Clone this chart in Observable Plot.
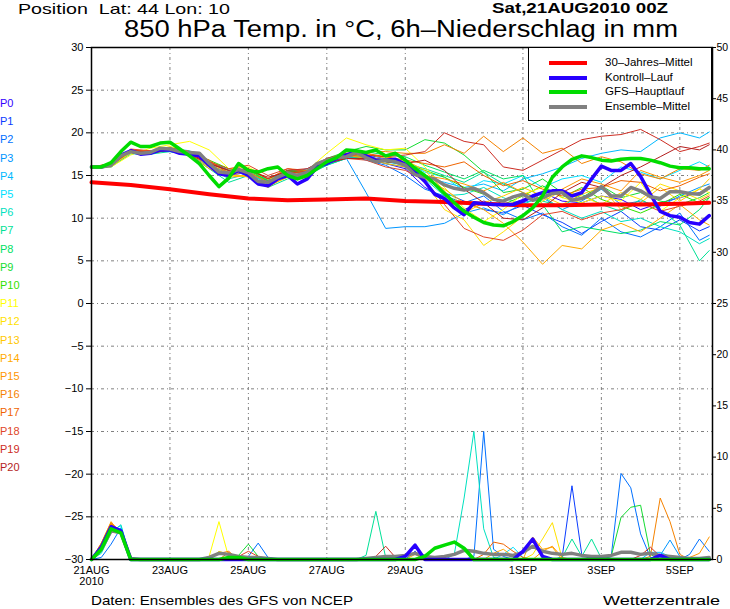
<!DOCTYPE html>
<html><head><meta charset="utf-8">
<script src="https://cdn.jsdelivr.net/npm/d3@7"></script>
<script src="https://cdn.jsdelivr.net/npm/@observablehq/plot@0.6"></script>
<style>
body{margin:0;background:#fff;}
#wrap{position:relative;width:730px;height:609px;overflow:hidden;font-family:"Liberation Sans",Arial,sans-serif;color:#000;}
.abs{position:absolute;white-space:nowrap;line-height:0.85;}
#wrap svg{position:absolute;left:0;top:0;}
</style></head><body><div id="wrap"></div>
<script>
// ---------- DATA ----------
const hours6 = [0,6,12,18,24,30,36,42,48,54,60,66,72,78,84,90,96,102,108,114,120,126,132,138,144,150,156,162,168,174,180,186,192,198,204,210,216,222,228,234,240,246,252,258,264,270,276,282,288,294,300,306,312,318,324,330,336,342,348,354,360,366,372,378];
const hours12 = [0,12,24,36,48,60,72,84,96,108,120,132,144,156,168,180,192,204,216,228,240,252,264,276,288,300,312,324,336,348,360,372,378];
const hoursClim = [0,24,48,72,96,120,144,168,192,216,240,264,288,312,336,360,378];

const xTickHours = [0,48,96,144,192,264,312,360];
const xTickLabels = ["21AUG\n2010","23AUG","25AUG","27AUG","29AUG","1SEP","3SEP","5SEP"];
const yTicks = [-30,-25,-20,-15,-10,-5,0,5,10,15,20,25,30];
const precipTicks = [0,5,10,15,20,25,30,35,40,45,50];

const memberNames = ["P0","P1","P2","P3","P4","P5","P6","P7","P8","P9","P10","P11","P12","P13","P14","P15","P16","P17","P18","P19","P20"];
const memberColors = ["#3300ff","#0a3cff","#0070ff","#0096ff","#00b9ff","#00e1ff","#00e1c0","#00e196","#00e164","#14dc32","#32e100","#ffff00","#ffe100","#ffc800","#ffaa00","#ff9600","#f58200","#f06400","#e04628","#cd2d23","#b41e1e"];

// 850 hPa temperature of the members (12-hourly)
const memberTemps = [
 [16.0,16.1,17.6,17.9,18.0,17.5,16.0,15.0,15.4,14.0,15.0,15.2,16.8,17.6,17.0,16.4, 15.8,13.6,12.4,11.0,12.0,11.4,12.2,13.0,12.0,11.8,12.6,12.2,11.0,11.8,12.4,13.0,13.4],
 [16.0,16.3,17.9,17.5,18.3,17.8,16.6,15.6,15.0,14.4,15.6,15.0,16.4,17.0,17.4,17.0, 16.6,15.0,13.0,12.0,11.0,10.6,11.5,10.4,9.5,8.2,9.6,10.8,9.0,8.6,9.8,8.5,9.0],
 [16.0,16.0,17.7,17.8,17.8,17.4,16.2,15.2,15.6,14.0,15.2,15.8,16.8,17.4,16.8,16.2, 15.0,13.4,12.6,11.8,12.6,10.8,9.8,10.6,9.0,8.0,10.0,8.4,7.8,9.0,10.6,7.4,8.0],
 [16.0,16.2,17.8,17.6,18.0,17.6,16.4,15.0,15.0,14.4,15.6,15.6,16.4,17.0,13.0,8.8, 9.0,9.0,9.4,10.6,11.2,10.4,11.8,12.4,11.0,12.0,13.4,11.6,12.0,11.4,12.6,13.6,14.0],
 [16.0,16.3,17.6,17.8,18.2,17.9,16.6,15.6,15.2,14.6,15.0,15.4,16.6,17.0,17.4,16.6, 16.2,14.8,14.2,13.6,14.0,13.2,14.6,15.2,16.0,17.0,17.6,18.0,17.8,19.4,20.0,19.4,20.1],
 [16.0,16.1,17.5,17.6,18.0,17.6,16.2,15.4,15.4,14.0,15.4,15.6,16.8,17.4,17.2,16.8, 16.6,15.4,14.8,13.2,14.4,14.0,15.0,13.6,14.6,15.0,14.2,16.0,15.4,14.6,15.6,16.6,16.0],
 [16.0,16.2,17.8,17.7,18.0,17.6,16.0,14.6,15.2,14.0,15.0,15.2,16.2,17.0,17.0,16.4, 16.0,14.6,12.6,12.8,13.6,12.4,11.6,12.6,11.0,10.0,10.8,9.6,10.0,9.0,8.4,7.0,7.6],
 [16.0,16.0,17.6,17.5,17.8,17.4,15.8,14.2,15.0,13.6,14.6,15.0,16.2,17.0,17.2,16.6, 16.4,15.8,15.0,14.2,15.4,14.0,13.0,12.0,11.4,12.8,11.6,10.8,12.2,11.0,9.2,5.0,6.2],
 [16.0,16.2,17.7,17.6,18.0,17.8,16.4,15.6,15.4,14.4,15.4,15.4,16.6,17.6,17.8,17.4, 17.2,16.2,15.4,14.6,15.6,14.6,15.0,11.6,8.4,9.0,8.6,8.2,8.6,9.6,9.2,11.0,12.4],
 [16.0,16.3,17.9,17.8,18.2,17.8,16.6,15.8,15.6,14.6,15.6,15.6,17.0,17.8,18.4,18.0, 18.0,19.2,18.8,17.4,15.4,13.0,13.4,14.6,13.0,12.4,13.8,12.4,13.0,12.0,11.6,12.4,13.0],
 [16.0,16.2,17.8,17.8,18.2,17.8,16.8,15.8,15.6,14.4,15.4,15.6,16.8,17.4,17.2,16.8, 16.4,15.6,14.8,13.6,12.8,11.6,12.6,13.8,12.4,13.6,12.2,11.4,10.6,11.6,12.8,11.8,12.4],
 [16.0,16.0,17.4,18.2,18.6,19.0,18.0,15.8,16.0,14.6,15.0,15.6,17.6,19.4,18.6,18.0, 18.2,16.0,13.6,11.2,9.6,11.0,12.8,13.6,12.4,11.8,12.6,12.0,14.2,10.8,12.4,13.4,13.0],
 [16.0,16.2,17.6,17.8,18.4,17.8,16.2,15.0,15.0,13.8,14.8,15.4,16.6,17.8,17.4,17.2, 16.6,14.2,11.0,9.8,6.8,8.4,10.2,12.0,13.2,12.6,11.6,13.0,12.2,14.0,13.2,12.2,12.8],
 [16.0,16.1,17.7,17.6,18.2,17.6,16.0,15.2,14.8,13.6,15.0,15.2,16.4,17.6,17.6,17.0, 16.8,15.6,13.2,10.6,11.8,12.6,13.6,12.6,11.6,12.8,13.6,11.0,11.8,13.6,12.0,13.4,14.6],
 [16.0,16.2,17.8,17.6,18.0,17.4,15.8,14.8,15.0,13.8,14.8,15.0,16.4,17.4,17.0,16.4, 16.0,14.6,13.4,11.8,11.0,9.4,7.2,4.6,6.8,6.4,8.6,9.4,8.4,10.0,11.6,9.8,9.2],
 [16.0,16.4,17.9,17.8,18.0,17.6,16.4,15.2,15.4,14.2,15.2,15.6,16.8,17.4,17.2,16.8, 16.4,15.0,14.6,14.0,13.2,14.2,13.0,12.2,13.4,14.6,14.0,13.2,15.6,14.8,14.2,15.0,15.6],
 [16.0,16.2,17.9,17.9,18.0,17.6,16.6,15.4,15.4,14.2,15.4,15.2,16.6,17.2,17.8,17.8, 17.6,17.6,18.6,17.6,19.6,17.8,19.4,17.6,18.2,16.4,17.2,16.6,15.2,14.6,15.8,15.6,16.2],
 [16.0,16.3,18.0,17.8,18.2,17.8,16.8,15.2,15.8,14.6,15.8,15.6,17.0,17.2,17.6,17.2, 16.8,16.4,16.0,16.6,15.0,13.8,14.4,13.4,12.6,13.4,13.6,14.4,14.2,13.2,13.8,14.8,15.2],
 [16.0,16.4,18.1,17.9,18.2,17.8,16.6,15.8,16.2,15.0,15.8,15.4,16.6,17.0,16.8,16.0, 15.6,14.4,11.6,8.8,7.8,7.4,8.6,10.4,10.8,9.8,10.6,11.0,11.8,10.8,11.4,12.0,12.6],
 [16.0,16.3,18.0,17.7,18.0,17.4,16.4,15.6,15.8,14.6,15.6,15.8,17.0,17.6,17.4,17.2, 17.4,17.8,20.0,19.0,18.6,16.0,15.6,16.8,18.0,19.2,19.6,19.8,20.4,19.2,17.8,18.4,18.8],
 [16.0,16.2,17.9,17.6,18.0,17.6,16.4,15.6,15.6,14.8,15.4,15.4,16.4,17.0,17.0,16.6, 16.4,16.8,15.6,13.4,11.8,10.0,9.8,11.2,13.0,14.2,13.6,15.0,16.0,17.2,18.4,18.0,18.6]
];

// thick lines (6-hourly; climate mean daily)
const climTemp = [14.2,13.9,13.4,12.8,12.3,12.1,12.2,12.3,12.0,11.9,11.7,11.5,11.5,11.6,11.6,11.7,11.8];
const gfsTemp = [16.0,16.0,16.5,17.8,18.9,18.4,18.4,18.8,18.9,18.1,
 17.3,16.4,15.0,13.7,14.7,16.4,15.6,15.4,15.8,16.0,
 15.0,14.6,15.0,15.8,16.6,17.1,18.0,17.9,17.7,18.0,
 17.3,17.6,16.8,15.8,15.0,14.0,12.9,11.8,10.8,10.1,
 9.5,9.2,9.1,9.6,10.3,11.2,12.6,14.8,16.0,16.9,
 17.3,17.1,16.8,16.7,16.9,17.0,17.0,16.8,16.5,16.1,
 15.9,15.9,15.8,15.8];
const ctrlTemp = [16.0,16.0,16.3,17.4,17.9,17.5,17.6,18.0,18.0,17.6,
 17.5,17.3,16.2,15.2,15.0,15.6,15.0,14.0,13.8,14.6,
 15.0,14.0,14.6,16.0,16.4,17.0,17.4,17.8,17.3,16.8,
 16.8,16.9,16.3,15.4,14.3,12.8,12.3,11.2,10.4,11.8,
 11.7,11.6,11.6,11.6,12.0,12.6,13.0,13.2,13.2,12.6,
 13.0,14.6,16.1,15.6,15.6,16.4,14.9,12.8,10.8,10.3,
 10.1,9.5,9.3,10.3];
const meanTemp = [16.0,16.0,16.2,17.3,17.8,17.6,17.7,18.2,18.1,17.8,
 17.7,17.6,16.4,15.4,15.3,15.7,15.3,14.3,14.2,14.8,
 15.3,15.0,15.4,16.4,16.8,17.1,17.2,17.7,17.1,16.6,
 16.8,16.6,16.2,15.1,14.8,14.6,13.9,13.5,13.3,13.5,
 13.0,12.2,12.0,12.5,12.8,12.1,12.4,12.9,13.0,12.1,
 12.3,12.8,13.7,12.6,12.6,13.6,13.2,12.5,12.3,13.1,
 13.1,12.9,12.8,13.6];

// 6h precipitation (mm), [hour, mm]; all other 6h steps are 0
const ctrlPrecip = [[6,1.2],[12,3.2],[18,2.8],[192,0.3],[198,1.4],[264,0.8],[270,2.0],[276,0.3],[348,0.4]];
const gfsPrecip = [[6,1.0],[12,3.0],[18,2.6],[84,0.2],[90,0.2],[204,0.3],[210,1.1],[216,1.4],[222,1.7],[228,1.1]];
const meanPrecip = [[6,1.0],[12,2.8],[18,2.6],[24,0.1],[72,0.2],[78,0.6],[84,0.5],[90,0.3],[96,0.2],[102,0.2],[108,0.1],[168,0.1],[174,0.2],[180,0.3],[186,0.3],[192,0.4],[198,0.6],[204,0.3],[210,0.2],[216,0.3],[222,0.5],[228,0.9],[234,0.8],[240,0.6],[246,0.5],[252,0.5],[258,0.4],[264,0.7],[270,1.3],[276,0.8],[282,0.6],[288,0.5],[294,0.6],[300,0.4],[306,0.3],[312,0.3],[318,0.4],[324,0.7],[330,0.7],[336,0.5],[342,0.6],[348,0.4],[354,0.3],[360,0.2],[366,0.1],[372,0.1],[378,0.2]];
// members: first rain at h6, h12, h18
const memberPrecipEarly = [[1.2,3.3,2.6],[1.0,3.0,2.8],[0.2,1.5,3.1],[0.8,2.9,2.9],[0.9,3.0,3.0],[1.0,2.8,3.3],[0.6,2.6,3.4],[1.0,3.1,2.7],[1.1,3.2,2.6],[1.0,3.0,2.8],[1.2,3.1,2.7],[1.3,3.4,2.6],[1.4,3.5,2.5],[1.5,3.6,2.6],[1.6,3.7,2.4],[1.5,3.5,2.8],[1.6,3.6,2.6],[1.4,3.4,2.7],[1.2,3.2,2.9],[1.1,3.0,2.8],[1.0,3.1,2.7]];
// members: later showers [member, hour, mm]
const memberPrecipEvents = [
 [11,72,0.3],[11,78,3.7],[11,84,0.2],[12,78,0.8],[12,84,0.5],[16,78,0.6],[16,84,0.8],[17,84,0.7],[15,90,0.3],
 [9,90,0.4],[9,96,1.5],[9,102,0.3],[2,96,0.3],[2,102,1.6],[2,108,0.2],[18,90,0.3],[18,96,0.8],[18,102,0.3],[4,84,0.3],
 [7,168,0.4],[7,174,4.7],[7,180,0.2],[19,174,0.3],[19,180,1.3],[19,186,0.2],
 [1,198,0.8],[13,192,0.4],[13,198,0.6],[14,198,0.5],[18,204,0.3],
 [6,222,0.5],[6,228,6.0],[6,234,12.5],[6,240,3.0],[6,246,0.2],
 [2,234,0.3],[2,240,12.5],[2,246,1.0],[2,252,0.3],
 [17,240,0.5],[17,246,1.7],[17,252,1.5],[17,258,0.8],[17,264,0.2],
 [14,246,0.6],[14,252,1.0],[14,258,0.3],[5,252,0.5],[5,258,1.2],[5,264,0.2],
 [12,270,0.5],[12,276,2.0],[12,282,3.6],[12,288,0.1],[14,270,2.2],[14,276,1.0],[14,282,1.2],
 [15,276,0.8],[15,282,1.3],[15,288,0.2],
 [1,288,0.2],[1,294,7.2],[1,300,0.5],
 [7,288,0.2],[7,294,2.0],[7,300,0.3],[7,306,2.0],[7,312,0.1],
 [2,318,0.3],[2,324,8.4],[2,330,7.0],[2,336,2.5],[2,342,0.2],
 [9,318,0.3],[9,324,4.1],[9,330,5.1],[9,336,5.3],[9,342,0.5],
 [16,342,0.3],[16,348,6.0],[16,354,3.7],[16,360,0.5],
 [19,336,0.4],[19,342,1.2],[19,348,0.3],[4,342,0.7],[4,348,0.7],[4,354,0.3],
 [3,348,0.4],[3,354,1.9],[3,360,0.3],[2,366,0.5],[2,372,2.0],[2,378,0.8],[15,366,0.2],[15,372,0.6],[15,378,2.2]
];

const legendLabels = ["30–Jahres–Mittel","Kontroll–Lauf","GFS–Hauptlauf","Ensemble–Mittel"];
const legendColors = ["#ff0000","#2800ff","#00dc00","#808080"];

// ---------- BUILD TABLES ----------
const toAxis = p => -30 + p * 60 / 50;   // precipitation (right axis, 0..50) onto temperature axis (-30..30)
const fromAxis = t => Math.round((t + 30) * 50 / 60);
const lookup = (pairs, h) => { const f = pairs.find(p => p[0] === h); return f ? f[1] : 0; };

const memberTempRows = [];
memberTemps.forEach((arr, m) => arr.forEach((t, i) => memberTempRows.push({m, h: hours12[i], t})));
const memberPrecipRows = [];
memberNames.forEach((_, m) => hours6.forEach(h => {
  let p = 0;
  if (h === 6) p = memberPrecipEarly[m][0];
  else if (h === 12) p = memberPrecipEarly[m][1];
  else if (h === 18) p = memberPrecipEarly[m][2];
  memberPrecipEvents.forEach(e => { if (e[0] === m && e[1] === h) p += e[2]; });
  memberPrecipRows.push({m, h, v: toAxis(p)});
}));
const series6 = arr => hours6.map((h, i) => ({h, t: arr[i]}));
const precip6 = pairs => hours6.map(h => ({h, v: toAxis(lookup(pairs, h))}));
const climRows = hoursClim.map((h, i) => ({h, t: climTemp[i]}));

const gridStyle = {stroke: "#808080", strokeOpacity: 1, strokeWidth: 1, strokeDasharray: "3,3,1,3"};

const chart = Plot.plot({
  width: 730, height: 609,
  marginLeft: 91, marginRight: 18, marginTop: 47, marginBottom: 50,
  x: {domain: [0, 380]},
  y: {domain: [-30, 30]},
  color: {type: "identity"},
  style: {fontFamily: "Liberation Sans, Arial, sans-serif", fontSize: "11px", background: "transparent", color: "#000", overflow: "visible"},
  marks: [
    Plot.gridY(yTicks.filter(d => d > -30 && d < 30), gridStyle),
    Plot.gridX(xTickHours.filter(d => d > 0), gridStyle),
    Plot.line(memberPrecipRows, {x: "h", y: "v", z: "m", stroke: d => memberColors[d.m], strokeWidth: 1}),
    Plot.line(memberTempRows, {x: "h", y: "t", z: "m", stroke: d => memberColors[d.m], strokeWidth: 1}),
    Plot.line(precip6(meanPrecip), {x: "h", y: "v", stroke: "#808080", strokeWidth: 3.5}),
    Plot.line(precip6(ctrlPrecip), {x: "h", y: "v", stroke: "#2800ff", strokeWidth: 3.5}),
    Plot.line(precip6(gfsPrecip), {x: "h", y: "v", stroke: "#00dc00", strokeWidth: 3.5}),
    Plot.line(climRows, {x: "h", y: "t", stroke: "#ff0000", strokeWidth: 4}),
    Plot.line(series6(ctrlTemp), {x: "h", y: "t", stroke: "#2800ff", strokeWidth: 3.5}),
    Plot.line(series6(meanTemp), {x: "h", y: "t", stroke: "#808080", strokeWidth: 3.5}),
    Plot.line(series6(gfsTemp), {x: "h", y: "t", stroke: "#00dc00", strokeWidth: 3.5}),
    Plot.frame({stroke: "#000", strokeWidth: 1.5}),
    Plot.axisY(yTicks, {anchor: "left", tickSize: 5, tickPadding: 3, label: null, tickFormat: d => d < 0 ? "−" + (-d) : String(d)}),
    Plot.axisY(precipTicks.map(toAxis), {anchor: "right", tickSize: 3, tickPadding: 1, fontSize: 10.5, label: null, tickFormat: d => String(fromAxis(d))}),
    Plot.axisX(xTickHours, {anchor: "bottom", tickSize: 0, tickPadding: 7, label: null, tickFormat: d => xTickLabels[xTickHours.indexOf(d)]})
  ]
});
const wrap = document.getElementById("wrap");
wrap.appendChild(chart);

// ---------- TEXT & LEGENDS ----------
function addText(txt, left, top, size, width, extra) {
  const el = document.createElement("div");
  el.className = "abs";
  el.textContent = txt;
  el.style.left = left + "px"; el.style.top = top + "px"; el.style.fontSize = size + "px";
  if (extra) Object.assign(el.style, extra);
  wrap.appendChild(el);
  if (width) {
    const w = el.getBoundingClientRect().width;
    el.style.transformOrigin = "left top";
    el.style.transform = `scaleX(${width / w})`;
  }
  return el;
}
addText("Position  Lat: 44 Lon: 10", 18, 3, 15, 212, {whiteSpace: "pre"});
addText("Sat,21AUG2010 00Z", 492, 2, 14.5, 176, {fontWeight: "bold"});
addText("850 hPa Temp. in °C, 6h–Niederschlag in mm", 124, 20, 23.5, 554);
addText("Daten: Ensembles des GFS von NCEP", 91, 595, 13, 262);
addText("Wetterzentrale", 603, 595, 13, 117);

memberNames.forEach((n, i) => {
  addText(n, 0, 99 + 18.2 * i, 11, null, {color: memberColors[i]});
});

const box = document.createElement("div");
Object.assign(box.style, {position: "absolute", left: "528px", top: "47px", width: "184px", height: "74px", border: "1px solid #000", background: "#fff", boxSizing: "border-box"});
wrap.appendChild(box);
legendLabels.forEach((lab, i) => {
  const cy = 62.7 + 14.8 * i;
  const bar = document.createElement("div");
  Object.assign(bar.style, {position: "absolute", left: "549px", top: (cy - 2) + "px", width: "38px", height: "4px", background: legendColors[i]});
  wrap.appendChild(bar);
  addText(lab, 605, cy - 5, 11.5);
});
</script></body></html>
